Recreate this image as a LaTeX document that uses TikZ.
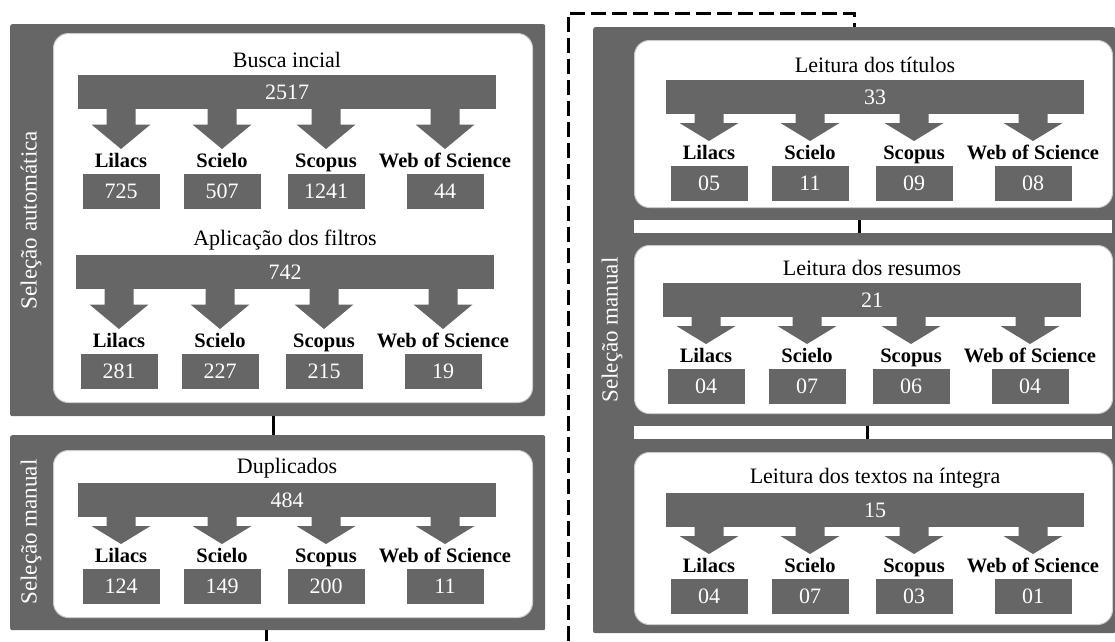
\documentclass[tikz,border=0pt]{standalone}
\usepackage{fontspec}
\setmainfont{Liberation Serif}
\definecolor{cinza}{RGB}{102,102,102}

% bloco: [folga], nome, posicao da barra, titulo, total, quatro valores
\newcommand{\bloco}[9][0]{%
  \begin{scope}[shift={(#3)}]
    \node[titulo] (#2-tit) at (209,-15) {#4};
    \node[barra] (#2) at (0,0) {#5};
    \foreach \dx/\base/\val [count=\i] in {43/Lilacs/#6, 144/Scielo/#7, 248/Scopus/#8, 367/Web of Science/#9} {
      \fill[cinza] (\dx-14.5,33) -- (\dx-14.5,43+#1/2) -- (\dx-29.5,43+#1/2) -- (\dx,61+#1) -- (\dx+29.5,43+#1/2) -- (\dx+14.5,43+#1/2) -- (\dx+14.5,33) -- cycle;
      \node[base] (#2-b\i) at (\dx,74+#1) {\base};
      \node[caixa] (#2-n\i) at (\dx,103.5+#1) {\val};
    }
  \end{scope}}

\begin{document}
\begin{tikzpicture}[x=1pt, y=-1pt,
  painel/.style={fill=cinza, rounded corners=2pt, anchor=north west, inner sep=0pt},
  quadro/.style={fill=white, draw=black!20, line width=1pt, rounded corners=15pt, anchor=north west, inner sep=0pt},
  faixa/.style={fill=white, anchor=north west, inner sep=0pt, minimum width=478, minimum height=13},
  vertical/.style={rotate=90, text=white, font=\fontsize{23}{23}\selectfont},
  titulo/.style={font=\fontsize{22}{22}\selectfont},
  barra/.style={fill=cinza, text=white, anchor=north west, minimum width=418, minimum height=34, inner sep=0pt, font=\fontsize{22}{22}\selectfont},
  base/.style={font=\bfseries\fontsize{20.5}{20.5}\selectfont, inner sep=0pt, text height=15pt, text depth=4pt},
  caixa/.style={fill=cinza, text=white, minimum width=77, minimum height=35, inner sep=0pt, font=\fontsize{22}{22}\selectfont},
  linha/.style={line width=3pt},
  tracejado/.style={dash pattern=on 15pt off 6pt}]
  \useasboundingbox (0,0) rectangle (1115,641);

  % paineis
  \node[painel, minimum width=535, minimum height=392] (auto) at (10,24) {};
  \node[painel, minimum width=535, minimum height=195] (manual) at (10,435) {};
  \node[painel, minimum width=522, minimum height=606] (leitura) at (593,27) {};
  \node[quadro, minimum width=479, minimum height=369] (q1) at (53,33) {};
  \node[quadro, minimum width=479, minimum height=167] (q2) at (53,450) {};
  \node[quadro, minimum width=478, minimum height=167] (q3) at (634,40) {};
  \node[quadro, minimum width=478, minimum height=168] (q4) at (634,245) {};
  \node[quadro, minimum width=478, minimum height=172] (q5) at (634,452) {};
  \node[faixa] (faixa1) at (634,220) {};
  \node[faixa] (faixa2) at (634,426) {};

  \node[vertical] (rot1) at (31,220) {Seleção automática};
  \node[vertical] (rot2) at (31,532) {Seleção manual};
  \node[vertical] (rot3) at (612,330) {Seleção manual};

  \bloco[13]{busca}{78,75}{Busca incial}{2517}{725}{507}{1241}{44}
  \bloco[13]{filtros}{76,255}{Aplicação dos filtros}{742}{281}{227}{215}{19}
  \bloco{duplic}{78,483}{Duplicados}{484}{124}{149}{200}{11}
  \bloco{titulos}{666,80}{Leitura dos títulos}{33}{05}{11}{09}{08}
  \bloco{resumos}{663,283}{Leitura dos resumos}{21}{04}{07}{06}{04}
  \bloco{integra}{666,493}{Leitura dos textos na íntegra}{15}{04}{07}{03}{01}

  % ligacoes
  \coordinate (saida) at (266,641);
  \coordinate (inicio) at (568,641);
  \draw[linha] ([xshift=-4pt]auto.south) -- ([xshift=-4pt]manual.north);
  \draw[linha] (saida |- manual.south) -- (saida);
  \draw[linha, tracejado] (inicio) |- ([yshift=14pt]leitura.north) -- (leitura.north);
  \draw[linha] ([xshift=-14pt]faixa1.north) -- ([xshift=-14pt]faixa1.south);
  \draw[linha] ([xshift=-6pt]faixa2.north) -- ([xshift=-6pt]faixa2.south);
\end{tikzpicture}
\end{document}
